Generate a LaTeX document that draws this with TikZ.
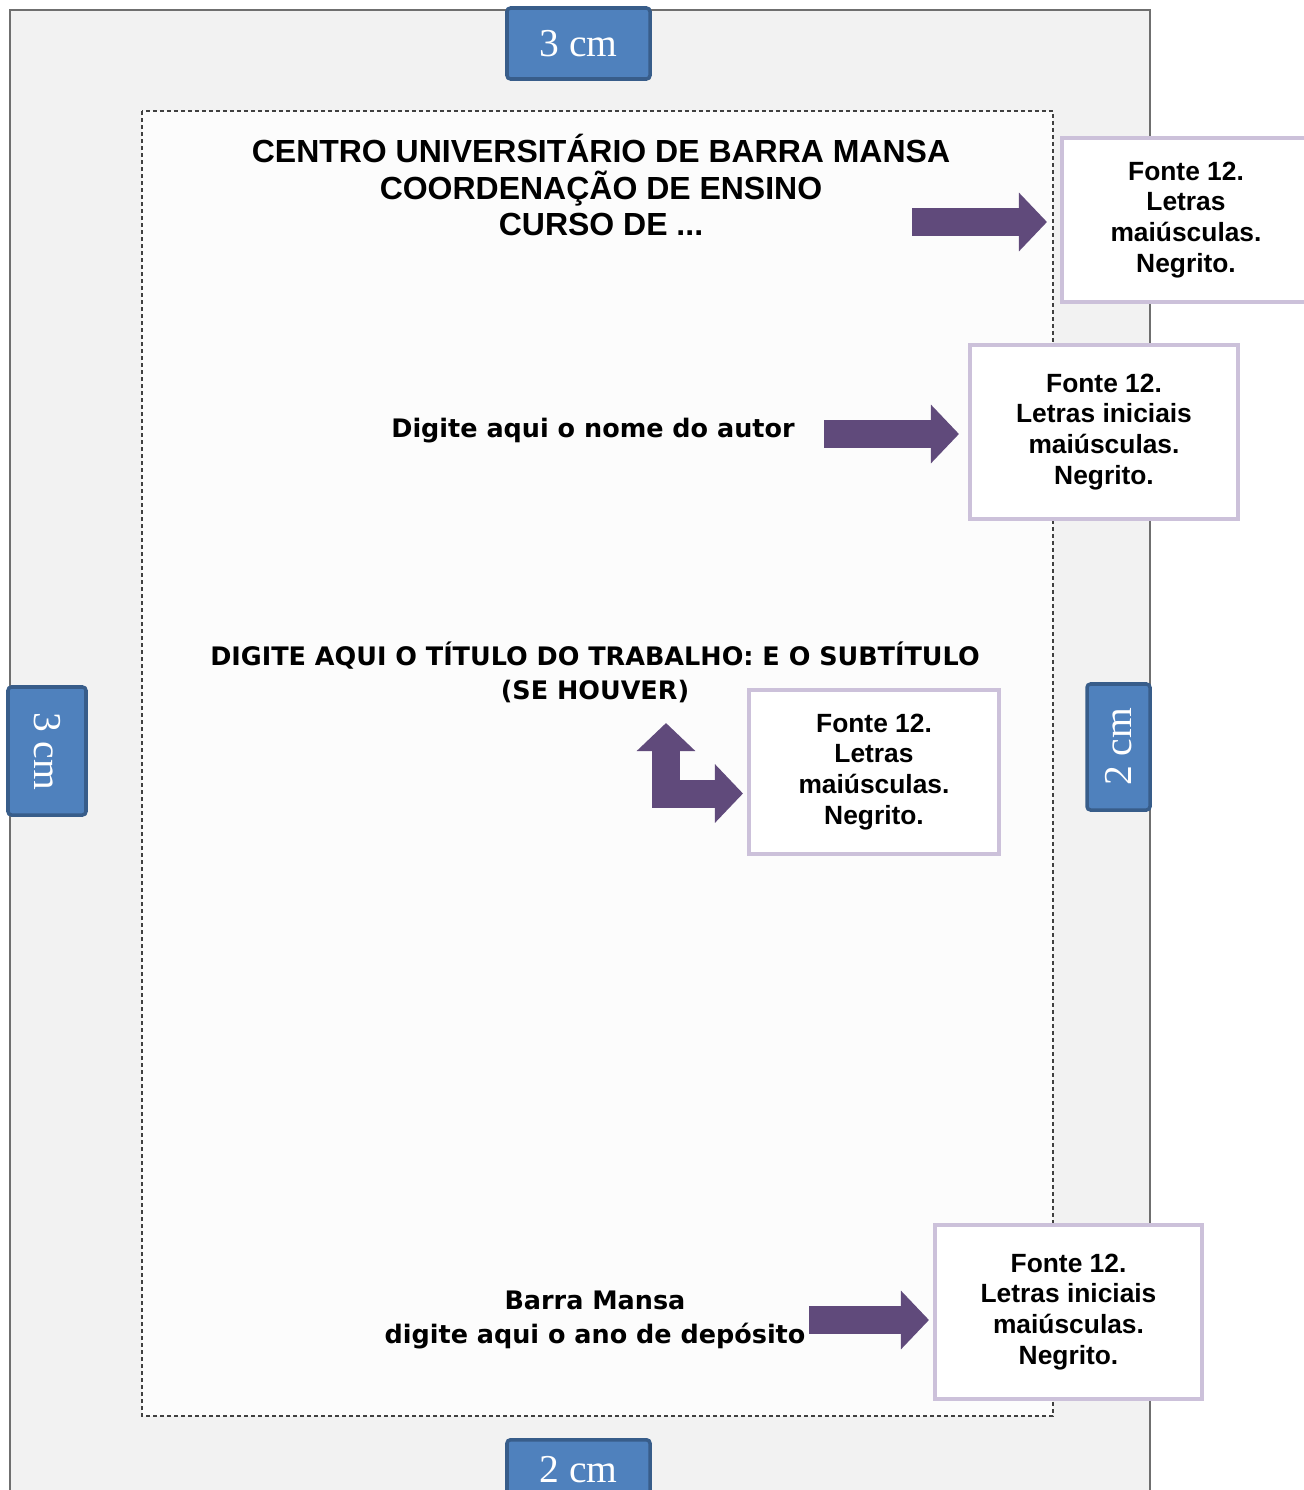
\documentclass[tikz,border=0pt]{standalone}
\usepackage{fontspec}
\setmainfont{Liberation Sans}
\newfontfamily\gothfont{DejaVu Sans}
\newfontfamily\tabfont{Liberation Serif}
\usetikzlibrary{arrows.meta,positioning}
\definecolor{PageGray}{HTML}{F2F2F2}
\definecolor{BorderGray}{HTML}{6F6F6F}
\definecolor{TextArea}{HTML}{FCFCFC}
\definecolor{TabBlue}{HTML}{4F81BD}
\definecolor{TabEdge}{HTML}{385D8A}
\definecolor{NoteLilac}{HTML}{CCC1DA}
\definecolor{ArrowPurple}{HTML}{604A7B}

\begin{document}
\begin{tikzpicture}[x=0.2mm, y=-0.2mm,
  tab/.style={draw=TabEdge, line width=2pt, fill=TabBlue, rounded corners=2pt, text=white, inner sep=0pt, font=\tabfont\fontsize{22.5}{26}\selectfont},
  note/.style={draw=NoteLilac, line width=2.3pt, fill=white, align=center, inner sep=2pt, font=\bfseries\fontsize{15}{17.6}\selectfont},
  gothic/.style={align=center, inner sep=0pt, font=\gothfont\bfseries\fontsize{14.5}{19.3}\selectfont},
  blockarr/.style={ArrowPurple, line width=5.6mm, -{Triangle[length=5.6mm, width=11.4mm]}}
]
\clip (0,0) rectangle (1304,1490);
\fill[white] (0,0) rectangle (1304,1490);

% page and text area
\draw[fill=PageGray, draw=BorderGray, line width=1pt] (10,10) rectangle (1150,1530);
\draw[fill=TextArea, draw=black!75, line width=0.9pt, dash pattern=on 0.8mm off 0.6mm] (142,111) rectangle (1053,1416);

% texts of the cover
\node[align=center, inner sep=0pt, font=\bfseries\fontsize{18.2}{21}\selectfont] (head) at (601,185)
  {CENTRO UNIVERSITÁRIO DE BARRA MANSA\\COORDENAÇÃO DE ENSINO\\CURSO DE ...};
\node[gothic] (author) at (593,431) {Digite aqui o nome do autor};
\node[gothic] (title) at (595,672) {DIGITE AQUI O TÍTULO DO TRABALHO: E O SUBTÍTULO\\(SE HOUVER)};
\node[gothic] (place) at (595,1320) {Barra Mansa\\digite aqui o ano de depósito};

% notes
\node[note, minimum width=49.6mm, minimum height=32.8mm] (n1) at (1186,220) {Fonte 12.\\Letras\\maiúsculas.\\Negrito.};
\node[note, minimum width=53.6mm, minimum height=34.8mm] (n2) at (1104,432) {Fonte 12.\\Letras iniciais\\maiúsculas.\\Negrito.};
\node[note, minimum width=50mm, minimum height=32.8mm] (n3) at (874,772) {Fonte 12.\\Letras\\maiúsculas.\\Negrito.};
\node[note, minimum width=53.4mm, minimum height=34.8mm] (n4) at (1068.5,1312) {Fonte 12.\\Letras iniciais\\maiúsculas.\\Negrito.};

% arrows
\coordinate (s1) at (912,222);
\coordinate (s2) at (824,434);
\coordinate (s4) at (809,1320);
\coordinate (up) at (666,723);
\coordinate (bend) at (666,793.5);
\draw[blockarr, shorten >=2.6mm] (s1) -- (s1 -| n1.west);
\draw[blockarr, shorten >=1.8mm] (s2) -- (s2 -| n2.west);
\draw[blockarr, shorten >=0.8mm] (s4) -- (s4 -| n4.west);
\draw[blockarr, {Triangle[length=5.6mm, width=11.4mm]}-{Triangle[length=5.6mm, width=11.4mm]}, line join=miter, shorten >=0.8mm]
  (up) -- (bend) -- (bend -| n3.west);

% margin tabs
\node[tab, minimum width=28.6mm, minimum height=14.2mm] (top) at (578.5,43.5) {3 cm};
\node[tab, anchor=north, minimum width=28.6mm, minimum height=12mm] (bottom) at (578.5,1438) {2 cm};
\node[tab, rotate=-90, minimum width=25.6mm, minimum height=15.6mm] (left) at (47,751) {3 cm};
\node[tab, rotate=90, minimum width=25.2mm, minimum height=12.6mm] (right) at (1118.5,747) {2 cm};
\end{tikzpicture}
\end{document}
